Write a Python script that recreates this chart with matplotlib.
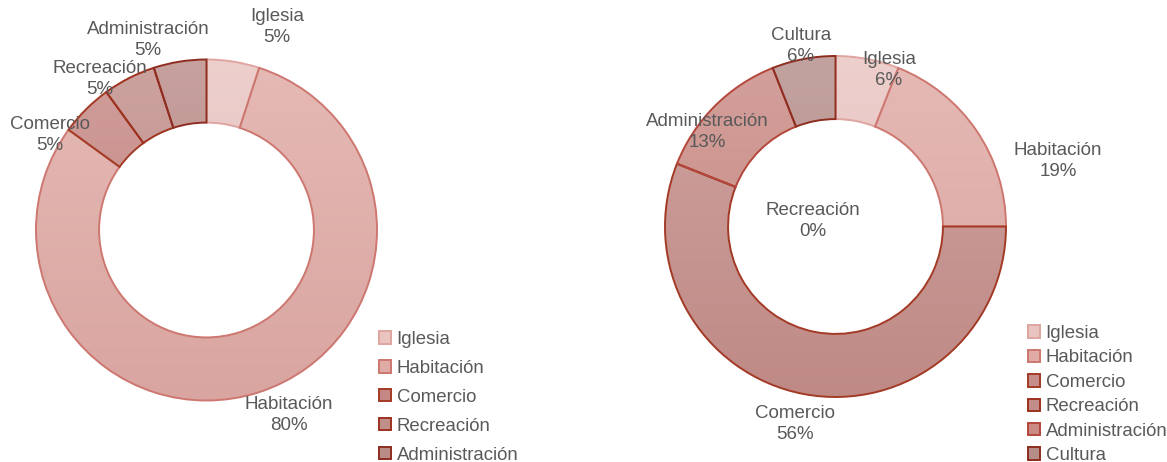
import numpy as np
import matplotlib
matplotlib.use("Agg")
import matplotlib.pyplot as plt
from matplotlib.colors import to_rgb
from matplotlib.patches import Patch

plt.rcParams['font.family'] = ['Liberation Sans', 'DejaVu Sans']

# data
left_labels = ["Iglesia", "Habitación", "Comercio", "Recreación", "Administración"]
left_values = [5, 80, 5, 5, 5]

right_labels = ["Iglesia", "Habitación", "Comercio", "Recreación", "Administración", "Cultura"]
right_values = [6, 19, 56, 0, 13, 6]

# styles
left_faces = ["#e9c4c1", "#e0aaa5", "#c68884", "#c18e8a", "#ba8c88"]
left_edges = ["#dfa5a0", "#cd7770", "#a33a26", "#9e321f", "#8e2d20"]
right_faces = ["#e9c4c1", "#e0aaa5", "#c58e8a", "#c18e8a", "#ca8b85", "#b58e8a"]
right_edges = ["#dfa5a0", "#cd7770", "#a33a26", "#9e321f", "#b4473a", "#8e2d20"]

# label positions in pixels (x, y from top)
left_label_pos = [(277, 27), (289, 415), (50, 135), (100, 79), (148, 40)]
right_label_pos = [(889, 70), (1058, 161), (795, 424), (813, 221), (707, 132), (801, 46)]

W, H = 1167, 462
TXT = "#595959"

fig = plt.figure(figsize=(W / 100, H / 100), dpi=100)
ax = fig.add_axes([0, 0, 1, 1])


def mix(c, other, t):
    c = np.array(to_rgb(c))
    return (1 - t) * c + t * np.array(other)


def donut(values, labels, faces, edges, label_pos, cx, cy, r):
    cy = H - cy
    wedges, _ = ax.pie(values, colors=faces, radius=r, center=(cx, cy),
                       startangle=90, counterclock=False,
                       wedgeprops=dict(width=r * 0.37, linewidth=0))
    # vertical gradient per slice
    for w, fc in zip(wedges, faces):
        top = mix(fc, (1, 1, 1), 0.18)
        bot = mix(fc, (0, 0, 0), 0.03)
        t = np.linspace(0, 1, 256)[:, None, None]
        grad = (1 - t) * top + t * bot
        im = ax.imshow(grad, extent=(cx - r, cx + r, cy - r, cy + r),
                       aspect='auto', interpolation='bilinear', zorder=2)
        im.set_clip_path(w)
    outl, _ = ax.pie(values, radius=r, center=(cx, cy), startangle=90,
                     counterclock=False,
                     wedgeprops=dict(width=r * 0.37, fill=False, linewidth=1.4))
    for w, ec in zip(outl, edges):
        w.set_edgecolor(ec)
        w.set_zorder(3)
    total = sum(values)
    for lab, v, (px, py) in zip(labels, values, label_pos):
        ax.text(px, H - py, f"{lab}\n{v / total * 100:.0f}%", ha='center',
                va='center', fontsize=13.5, color=TXT, linespacing=1.25, zorder=4)
    return [Patch(facecolor=f, edgecolor=e, linewidth=1.4) for f, e in zip(faces, edges)]


lh = donut(left_values, left_labels, left_faces, left_edges, left_label_pos, 206.5, 230, 170.5)
rh = donut(right_values, right_labels, right_faces, right_edges, right_label_pos, 835.5, 226.5, 170.5)

leg1 = ax.legend(lh, left_labels, loc='upper left', bbox_to_anchor=(379 / W, 1 - 331 / H),
                 frameon=False, fontsize=13.4, labelcolor=TXT, handlelength=0.65,
                 handleheight=0.65, handletextpad=0.3, labelspacing=0.64, borderpad=0,
                 borderaxespad=0)
ax.add_artist(leg1)
ax.legend(rh, right_labels, loc='upper left', bbox_to_anchor=(1028 / W, 1 - 325 / H),
          frameon=False, fontsize=13.4, labelcolor=TXT, handlelength=0.65,
          handleheight=0.65, handletextpad=0.3, labelspacing=0.4, borderpad=0,
          borderaxespad=0)

ax.set_xlim(0, W)
ax.set_ylim(0, H)
ax.set_aspect('auto')
ax.axis('off')

fig.savefig("out.png", dpi=100)
